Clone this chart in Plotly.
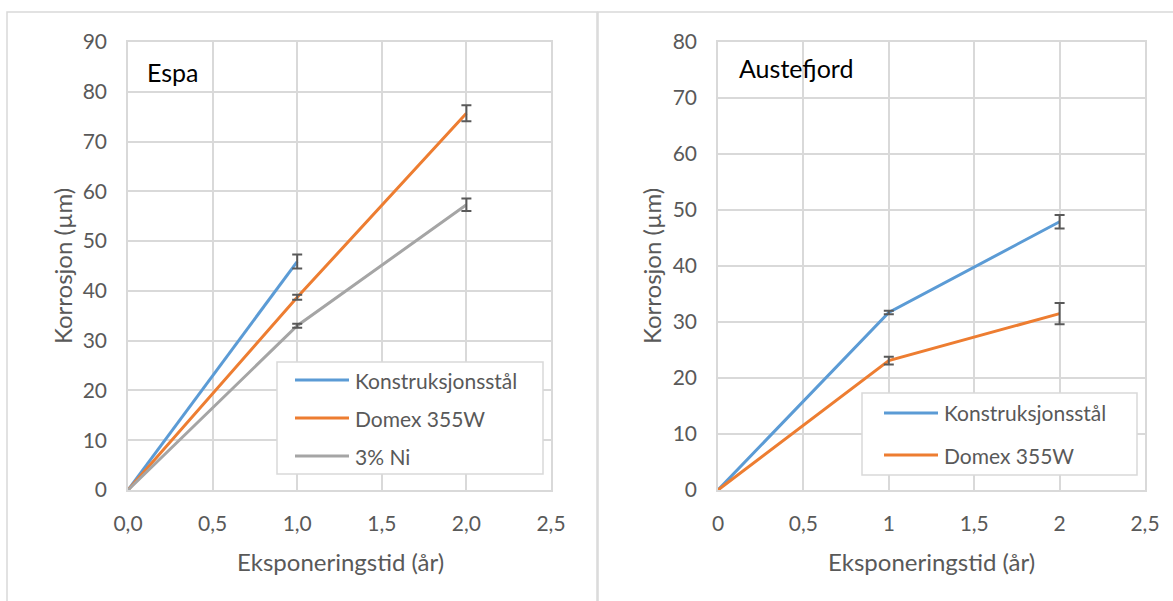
import plotly.graph_objects as go

# ---- data ----
years = [0, 1, 2]
espa_konst_x = [0, 1]
espa_konst_y = [0, 45.9]
espa_konst_err = [1.4]
espa_domex = [0, 38.7, 75.7]
espa_domex_err = [0.5, 1.6]
espa_ni = [0, 33.0, 57.3]
espa_ni_err = [0.4, 1.25]

aust_konst = [0, 31.7, 47.9]
aust_konst_err = [0.3, 1.2]
aust_domex = [0, 23.1, 31.5]
aust_domex_err = [0.7, 1.9]

series_names_left = ["Konstruksjonsstål", "Domex 355W", "3% Ni"]
series_names_right = ["Konstruksjonsstål", "Domex 355W"]

x_tickvals = [0, 0.5, 1, 1.5, 2, 2.5]
x_ticktext_left = ["0,0", "0,5", "1,0", "1,5", "2,0", "2,5"]
x_ticktext_right = ["0", "0,5", "1", "1,5", "2", "2,5"]
y_ticks_left = [0, 10, 20, 30, 40, 50, 60, 70, 80, 90]
y_ticks_right = [0, 10, 20, 30, 40, 50, 60, 70, 80]

BLUE = "#5B9BD5"
ORANGE = "#ED7D31"
GRAY = "#A5A5A5"
ERR = "#595959"
GRID = "#D9D9D9"
TXT = "#595959"
FONT = "Lato"

W, H = 1173, 601

fig = go.Figure()

def line(x, y, color, name, xa, ya):
    fig.add_trace(go.Scatter(x=x, y=y, mode="lines", name=name,
                             line=dict(color=color, width=3),
                             xaxis=xa, yaxis=ya, showlegend=False))

def errs(x, y, e, xa, ya):
    fig.add_trace(go.Scatter(x=x, y=y, mode="markers", showlegend=False,
                             marker=dict(size=1, color="rgba(0,0,0,0)"),
                             error_y=dict(type="data", array=e, visible=True,
                                          color=ERR, thickness=2, width=5),
                             xaxis=xa, yaxis=ya, hoverinfo="skip"))

# left panel
line(espa_konst_x, espa_konst_y, BLUE, series_names_left[0], "x", "y")
line(years, espa_domex, ORANGE, series_names_left[1], "x", "y")
line(years, espa_ni, GRAY, series_names_left[2], "x", "y")
errs(espa_konst_x[1:], espa_konst_y[1:], espa_konst_err, "x", "y")
errs(years[1:], espa_domex[1:], espa_domex_err, "x", "y")
errs(years[1:], espa_ni[1:], espa_ni_err, "x", "y")

# right panel
line(years, aust_konst, BLUE, series_names_right[0], "x2", "y2")
line(years, aust_domex, ORANGE, series_names_right[1], "x2", "y2")
errs(years[1:], aust_konst[1:], aust_konst_err, "x2", "y2")
errs(years[1:], aust_domex[1:], aust_domex_err, "x2", "y2")

def px_x(p):
    return p / W

def px_y(p):
    return 1 - p / H

ydom = [px_y(490), px_y(42)]

axis_common = dict(showgrid=True, gridcolor=GRID, gridwidth=1.5,
                   showline=True, linecolor=GRID, linewidth=1.5, mirror=True,
                   zeroline=False, ticks="outside", tickcolor="rgba(0,0,0,0)",
                   automargin=False,
                   tickfont=dict(family=FONT, size=21, color=TXT))

fig.update_layout(
    width=W, height=H, margin=dict(l=0, r=0, t=0, b=0),
    paper_bgcolor="white", plot_bgcolor="white",
    font=dict(family=FONT, color=TXT),
    showlegend=False,
    xaxis=dict(domain=[px_x(128), px_x(551)], range=[0, 2.5],
               tickvals=x_tickvals, ticktext=x_ticktext_left, ticklen=14,
               anchor="y", **axis_common),
    yaxis=dict(domain=ydom, range=[0, 90], tickvals=y_ticks_left, ticklen=15,
               anchor="x", **axis_common),
    xaxis2=dict(domain=[px_x(718), px_x(1145)], range=[0, 2.5],
                tickvals=x_tickvals, ticktext=x_ticktext_right, ticklen=14,
                anchor="y2", **axis_common),
    yaxis2=dict(domain=ydom, range=[0, 80], tickvals=y_ticks_right, ticklen=15,
                anchor="x2", **axis_common),
)

def ann(text, x, y, size, color=TXT, xanchor="center", angle=0):
    fig.add_annotation(text=text, x=px_x(x), y=px_y(y), xref="paper", yref="paper",
                       xanchor=xanchor, yanchor="middle", showarrow=False,
                       textangle=angle, font=dict(family=FONT, size=size, color=color))

# axis titles
ann("Eksponeringstid (år)", 340, 561, 24)
ann("Korrosjon (µm)", 62, 266, 24, angle=-90)
ann("Eksponeringstid (år)", 931, 561, 24)
ann("Korrosjon (µm)", 651, 266, 24, angle=-90)

# panel labels
ann("Espa", 145, 72, 25, color="black", xanchor="left")
ann("Austefjord", 737, 68, 25, color="black", xanchor="left")

# legends (drawn box + samples + text)
def legend_box(x0, y0, x1, y1, names, colors, ys, lx0, lx1, tx):
    fig.add_shape(type="rect", xref="paper", yref="paper",
                  x0=px_x(x0), x1=px_x(x1), y0=px_y(y1), y1=px_y(y0),
                  line=dict(color=GRID, width=1.5), fillcolor="white")
    for n, c, yy in zip(names, colors, ys):
        fig.add_shape(type="line", xref="paper", yref="paper",
                      x0=px_x(lx0), x1=px_x(lx1), y0=px_y(yy), y1=px_y(yy),
                      line=dict(color=c, width=3))
        ann(n, tx, yy, 21, xanchor="left")

legend_box(277, 362, 543, 474, series_names_left, [BLUE, ORANGE, GRAY],
           [380, 418, 456], 295, 349, 353)
legend_box(862, 393, 1137, 475, series_names_right, [BLUE, ORANGE],
           [413, 455], 884, 938, 942)

# panel borders
fig.add_shape(type="rect", xref="paper", yref="paper",
              x0=px_x(7), x1=px_x(597), y0=px_y(620), y1=px_y(12),
              line=dict(color=GRID, width=1.5), layer="below")
fig.add_shape(type="rect", xref="paper", yref="paper",
              x0=px_x(598), x1=px_x(1190), y0=px_y(620), y1=px_y(12),
              line=dict(color=GRID, width=1.5), layer="below")

fig.write_html("out.html")
